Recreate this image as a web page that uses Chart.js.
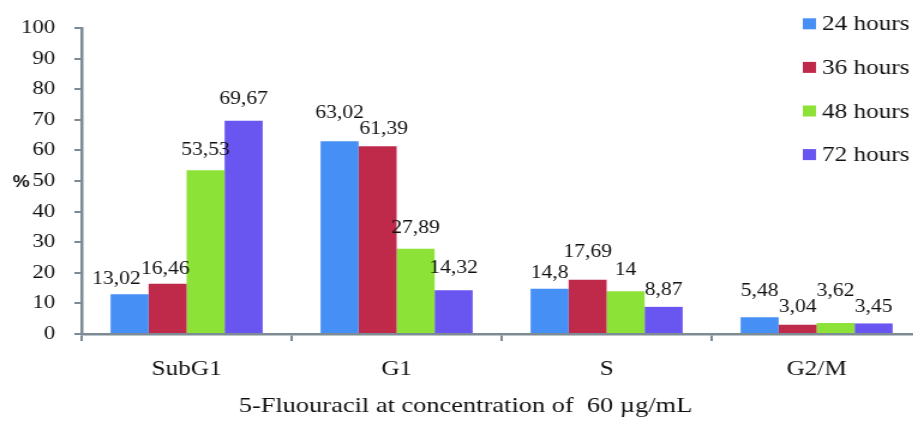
<!DOCTYPE html>
<html><head><meta charset="utf-8">
<script src="https://cdn.jsdelivr.net/npm/chart.js@4"></script>
<style>
html,body{margin:0;padding:0;background:#fff;overflow:hidden;width:913px;height:423px}
</style>
</head><body>
<canvas id="c" width="770" height="423" style="width:924px;height:423px;display:block"></canvas>
<script>
// ---- data ----
const categories = ['SubG1', 'G1', 'S', 'G2/M'];
const seriesNames = ['24 hours', '36 hours', '48 hours', '72 hours'];
const hours24 = [13.02, 63.02, 14.8, 5.48];
const hours36 = [16.46, 61.39, 17.69, 3.04];
const hours48 = [53.53, 27.89, 14, 3.62];
const hours72 = [69.67, 14.32, 8.87, 3.45];
const yTickValues = [0, 10, 20, 30, 40, 50, 60, 70, 80, 90, 100];
const yAxisTitle = '%';
const xAxisTitle = '5-Fluouracil at concentration of  60 µg/mL';

// ---- style ----
const seriesValues = [hours24, hours36, hours48, hours72];
const colors = ['#468ff5', '#bf2a4b', '#8ce236', '#6955ef'];
const labelLift = [[10, 23, 11, 21], [10, 12, 23, 13], [15, 16, 16, 27], [17, 17, 12, 11]];
const labelShift = [[-11, 0, 0, 0], [-2, 5, 0, 0], [0, 0, 0, 0], [0, 0, 0, 0]];
const axisColor = '#7d8b94';
const serif = "'Liberation Serif', 'Times New Roman', serif";
const fmt = v => String(v).replace('.', ',');

const decor = {
  id: 'decor',
  afterDatasetsDraw(chart) {
    const ctx = chart.ctx;
    ctx.save();
    // data labels
    ctx.font = '18px ' + serif;
    ctx.fillStyle = '#111';
    ctx.textAlign = 'center';
    ctx.textBaseline = 'alphabetic';
    chart.data.datasets.forEach((ds, i) => {
      chart.getDatasetMeta(i).data.forEach((bar, j) => {
        ctx.fillText(fmt(ds.data[j]), bar.x + labelShift[i][j], bar.y - labelLift[i][j]);
      });
    });
    // y axis title
    const ys = chart.scales.y;
    ctx.font = "bold 16px 'Liberation Sans', Arial, sans-serif";
    ctx.textAlign = 'center';
    ctx.fillText(yAxisTitle, 17.5, ys.getPixelForValue(50) + 6);
    // x axis title
    const ca = chart.chartArea;
    ctx.font = '22px ' + serif;
    ctx.fillText(xAxisTitle, ca.left + 0.457 * (ca.right - ca.left), 412);
    // legend
    const lx = 669, ly0 = 23.8, dy = 43.6;
    ctx.font = '21px ' + serif;
    ctx.textAlign = 'left';
    ctx.textBaseline = 'middle';
    seriesNames.forEach((n, i) => {
      const cy = ly0 + i * dy;
      ctx.fillStyle = colors[i];
      ctx.fillRect(lx, cy - 5.5, 11, 11);
      ctx.fillStyle = '#111';
      ctx.fillText(n, lx + 16, cy + 1);
    });
    ctx.restore();
  }
};

new Chart(document.getElementById('c'), {
  type: 'bar',
  data: {
    labels: categories,
    datasets: seriesNames.map((n, i) => ({
      label: n,
      data: seriesValues[i],
      backgroundColor: colors[i],
      borderWidth: 0,
      categoryPercentage: 0.724,
      barPercentage: 1
    }))
  },
  options: {
    responsive: false,
    animation: false,
    devicePixelRatio: 1,
    layout: { padding: { left: 0, right: 2, top: 28, bottom: 0 } },
    plugins: { legend: { display: false }, tooltip: { enabled: false } },
    scales: {
      x: {
        grid: { display: true, drawOnChartArea: false, drawTicks: true, tickLength: 7, color: axisColor, lineWidth: 2, offset: true },
        border: { display: true, color: axisColor, width: 2.5 },
        ticks: { font: { family: serif, size: 21 }, color: '#111', padding: 16, maxRotation: 0 },
        afterFit(s) { s.height = 89; }
      },
      y: {
        min: 0, max: 100,
        afterBuildTicks(s) { s.ticks = yTickValues.map(v => ({ value: v })); },
        ticks: { font: { family: serif, size: 19 }, color: '#111', padding: 16 },
        grid: { drawOnChartArea: false, tickLength: 6, color: axisColor, lineWidth: 2 },
        border: { display: true, color: axisColor, width: 2.5 },
        afterFit(s) { s.width = 68; }
      }
    }
  },
  plugins: [decor]
});
</script>
</body></html>
